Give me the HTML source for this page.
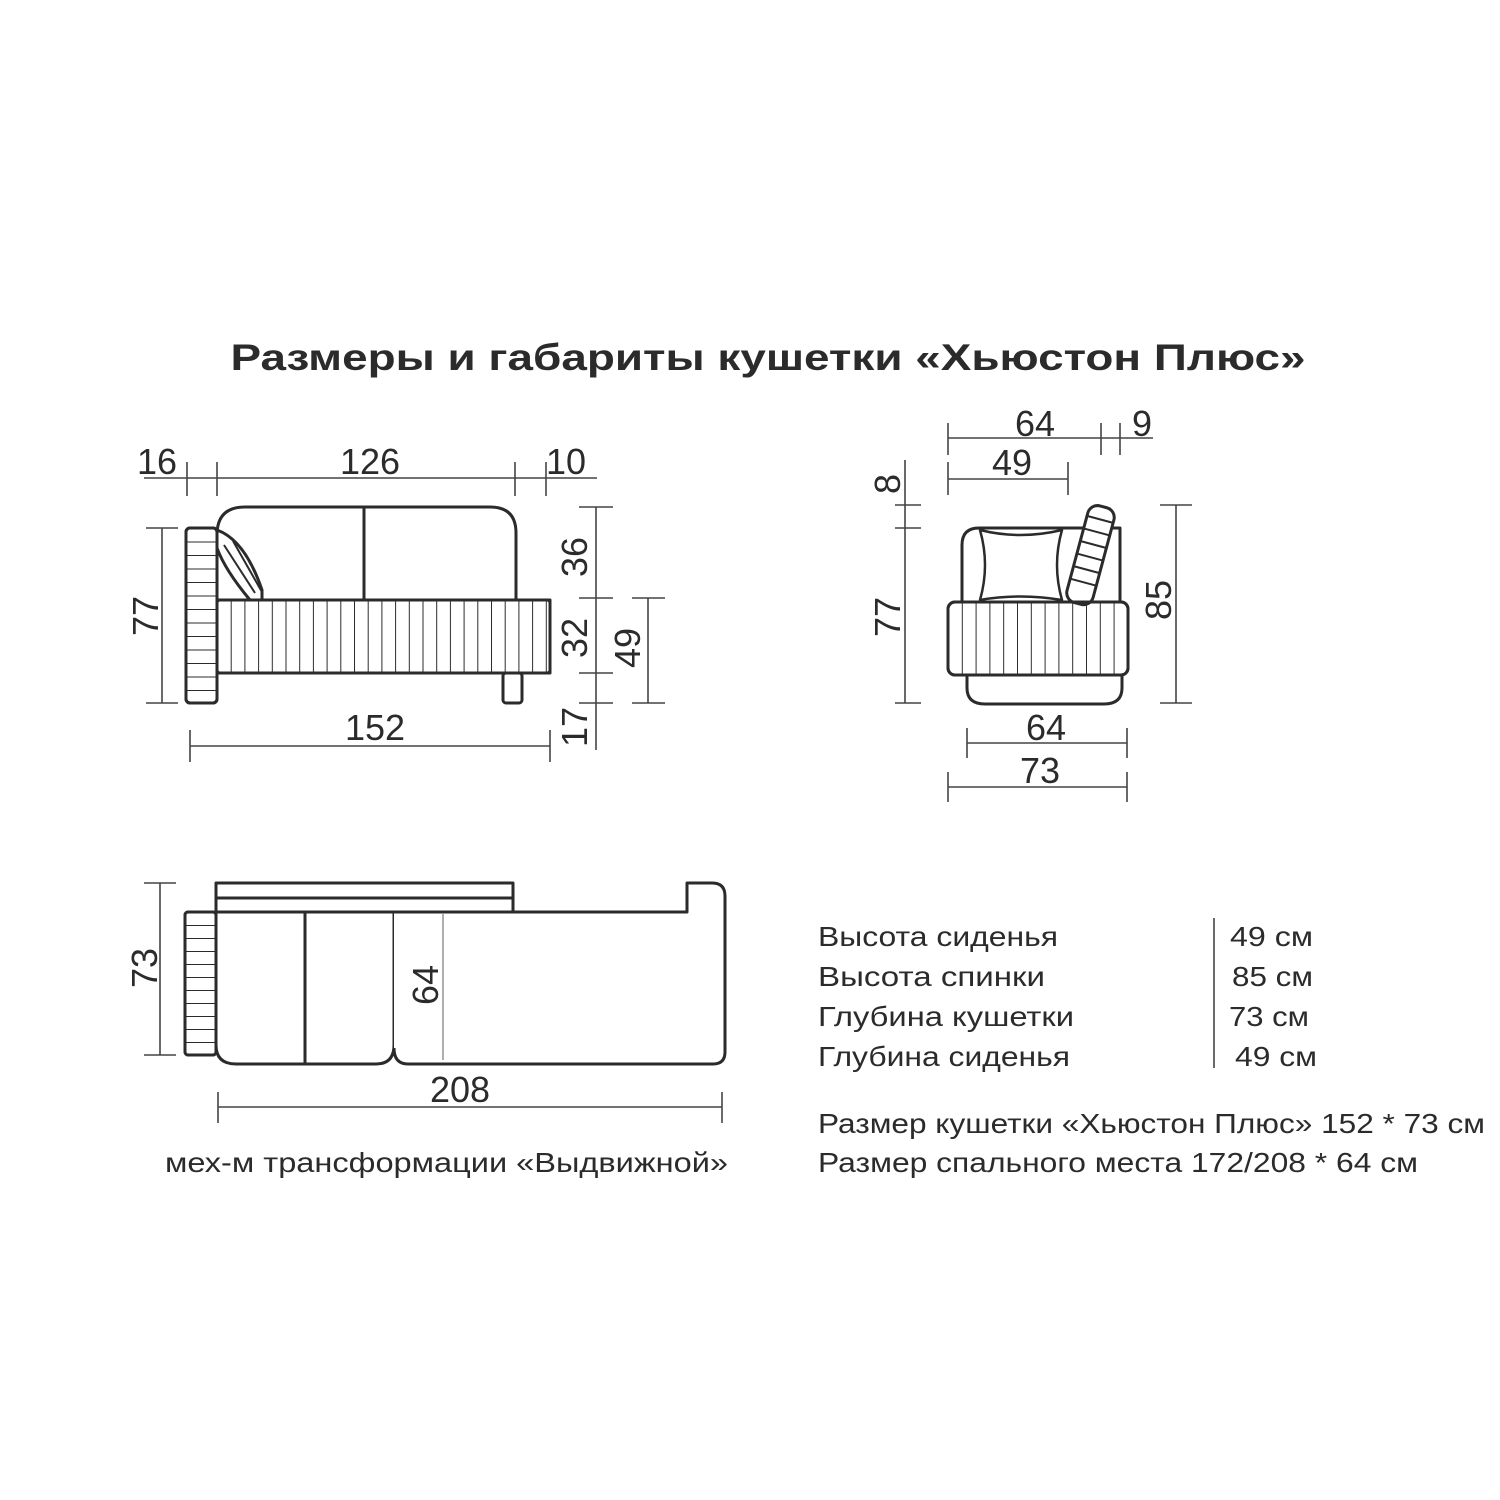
<!DOCTYPE html>
<html><head><meta charset="utf-8"><style>
html,body{margin:0;padding:0;background:#fff;}
svg{display:block;}
text{font-family:"Liberation Sans","DejaVu Sans",sans-serif;fill:#2b2b2b;}
</style></head><body>
<svg width="1500" height="1500" viewBox="0 0 1500 1500" xmlns="http://www.w3.org/2000/svg">
<defs>
<pattern id="vs" patternUnits="userSpaceOnUse" x="217" y="0" width="13.7" height="10"><line x1="0" y1="0" x2="0" y2="10" stroke="#2b2b2b" stroke-width="2"/></pattern>
<pattern id="vs2" patternUnits="userSpaceOnUse" x="948" y="0" width="13.8" height="10"><line x1="0" y1="0" x2="0" y2="10" stroke="#2b2b2b" stroke-width="2"/></pattern>
<pattern id="hs" patternUnits="userSpaceOnUse" x="0" y="528" width="10" height="13.5"><line x1="0" y1="0" x2="10" y2="0" stroke="#2b2b2b" stroke-width="2"/></pattern>
<pattern id="hs2" patternUnits="userSpaceOnUse" x="0" y="912" width="10" height="13"><line x1="0" y1="0" x2="10" y2="0" stroke="#2b2b2b" stroke-width="2"/></pattern>
</defs>

<text x="768" y="370" font-size="37" font-weight="bold" text-anchor="middle" textLength="1075" lengthAdjust="spacingAndGlyphs">Размеры и габариты кушетки «Хьюстон Плюс»</text>

<g stroke="#444" stroke-width="1.6" fill="none">
<line x1="144" y1="478" x2="597" y2="478"/>
<line x1="187" y1="462" x2="187" y2="496"/><line x1="217" y1="462" x2="217" y2="496"/>
<line x1="515" y1="462" x2="515" y2="496"/><line x1="546" y1="462" x2="546" y2="496"/>
<line x1="162" y1="528" x2="162" y2="703"/><line x1="146" y1="528" x2="178" y2="528"/><line x1="146" y1="703" x2="178" y2="703"/>
<line x1="190" y1="746" x2="550" y2="746"/><line x1="190" y1="730" x2="190" y2="762"/><line x1="550" y1="730" x2="550" y2="762"/>
<line x1="596" y1="507" x2="596" y2="750"/>
<line x1="579" y1="507" x2="613" y2="507"/><line x1="579" y1="598" x2="613" y2="598"/><line x1="579" y1="673" x2="613" y2="673"/><line x1="579" y1="703" x2="613" y2="703"/>
<line x1="648" y1="598" x2="648" y2="703"/><line x1="632" y1="598" x2="665" y2="598"/><line x1="632" y1="703" x2="665" y2="703"/>

<line x1="948" y1="438" x2="1153" y2="438"/>
<line x1="948" y1="423" x2="948" y2="455"/><line x1="1101" y1="423" x2="1101" y2="455"/><line x1="1120" y1="423" x2="1120" y2="455"/>
<line x1="948" y1="479" x2="1068" y2="479"/><line x1="948" y1="462" x2="948" y2="495"/><line x1="1068" y1="462" x2="1068" y2="495"/>
<line x1="905" y1="460" x2="905" y2="703"/>
<line x1="895" y1="505" x2="921" y2="505"/><line x1="895" y1="528" x2="921" y2="528"/><line x1="895" y1="703" x2="921" y2="703"/>
<line x1="1176" y1="505" x2="1176" y2="703"/><line x1="1160" y1="505" x2="1192" y2="505"/><line x1="1160" y1="703" x2="1192" y2="703"/>
<line x1="967" y1="743" x2="1127" y2="743"/><line x1="967" y1="728" x2="967" y2="758"/><line x1="1127" y1="728" x2="1127" y2="758"/>
<line x1="948" y1="787" x2="1127" y2="787"/><line x1="948" y1="772" x2="948" y2="802"/><line x1="1127" y1="772" x2="1127" y2="802"/>

<line x1="160" y1="883" x2="160" y2="1055"/><line x1="144" y1="883" x2="176" y2="883"/><line x1="144" y1="1055" x2="176" y2="1055"/>
<line x1="218" y1="1107" x2="722" y2="1107"/><line x1="218" y1="1092" x2="218" y2="1123"/><line x1="722" y1="1092" x2="722" y2="1123"/>
<line x1="1214" y1="918" x2="1214" y2="1068"/>
</g>
<g stroke="#999" stroke-width="1.6"><line x1="443" y1="914" x2="443" y2="1060"/><line x1="428" y1="914" x2="460" y2="914"/><line x1="428" y1="1060" x2="460" y2="1060"/></g>

<g stroke="#2b2b2b" stroke-width="3" fill="#fff" stroke-linejoin="round">
<path d="M217 600 V535 Q217 507 245 507 H490 Q516 507 516 533 V600"/>
<line x1="364" y1="507" x2="364" y2="600"/>
<path d="M217 530 Q245 540 262 590 L262 600 L250 600 Q225 570 217 548 Z" fill="#fff"/>
<path d="M224 545 L255 593 M233 541 L262 592" stroke-width="2"/>
<rect x="217" y="600" width="333" height="73" fill="url(#vs)"/>
<rect x="217" y="600" width="333" height="73" rx="3" fill="none"/>
<rect x="186" y="528" width="31" height="175" rx="4" fill="url(#hs)"/>
<rect x="186" y="528" width="31" height="175" rx="4" fill="none"/>
<rect x="503" y="673" width="19" height="30" rx="3"/>
</g>

<g stroke="#2b2b2b" stroke-width="3" fill="#fff" stroke-linejoin="round">
<path d="M962 602 V545 Q962 528 979 528 H1120 V602"/>
<path d="M980 530 Q1020 540 1062 530 Q1052 565 1062 600 Q1020 593 980 600 Q990 565 980 530 Z" stroke-width="2.5"/>
<g transform="rotate(15 1090 555)">
<rect x="1077" y="505" width="27" height="100" rx="10" fill="#fff"/>
<path d="M1077 518 H1104 M1077 531 H1104 M1077 544 H1104 M1077 557 H1104 M1077 570 H1104 M1077 583 H1104" stroke-width="2"/>
</g>
<path d="M967 675 V688 Q967 704 985 704 H1104 Q1122 704 1122 688 V675"/>
<rect x="948" y="602" width="180" height="73" rx="7" fill="url(#vs2)"/>
<rect x="948" y="602" width="180" height="73" rx="7" fill="none"/>
</g>

<g stroke="#2b2b2b" stroke-width="3" fill="#fff" stroke-linejoin="round">
<rect x="216" y="883" width="297" height="29"/>
<line x1="216" y1="898" x2="513" y2="898"/>
<path d="M216 912 V1045 Q216 1064 236 1064 H376 Q394 1064 394 1045 V912 Z"/>
<line x1="305" y1="912" x2="305" y2="1064"/>
<path d="M394 912 H687 V883 H712 Q725 883 725 896 V1052 Q725 1064 713 1064 H408 Q394 1064 394 1048"/>
<rect x="185" y="912" width="31" height="143" rx="3" fill="url(#hs2)"/>
<rect x="185" y="912" width="31" height="143" rx="3" fill="none"/>
</g>
<g stroke="#999" stroke-width="1.6"><line x1="443" y1="914" x2="443" y2="1060"/></g>

<g font-size="36">
<text x="157" y="474" text-anchor="middle">16</text>
<text x="370" y="474" text-anchor="middle">126</text>
<text x="566" y="474" text-anchor="middle">10</text>
<text x="375" y="740" text-anchor="middle">152</text>
<text transform="translate(158 616) rotate(-90)" text-anchor="middle">77</text>
<text transform="translate(587 557) rotate(-90)" text-anchor="middle">36</text>
<text transform="translate(587 638) rotate(-90)" text-anchor="middle">32</text>
<text transform="translate(587 727) rotate(-90)" text-anchor="middle">17</text>
<text transform="translate(640 648) rotate(-90)" text-anchor="middle">49</text>
<text x="1035" y="436" text-anchor="middle">64</text>
<text x="1142" y="436" text-anchor="middle">9</text>
<text x="1012" y="475" text-anchor="middle">49</text>
<text transform="translate(900 484) rotate(-90)" text-anchor="middle">8</text>
<text transform="translate(900 617) rotate(-90)" text-anchor="middle">77</text>
<text transform="translate(1171 600) rotate(-90)" text-anchor="middle">85</text>
<text x="1046" y="740" text-anchor="middle">64</text>
<text x="1040" y="783" text-anchor="middle">73</text>
<text transform="translate(157 968) rotate(-90)" text-anchor="middle">73</text>
<text transform="translate(438 985) rotate(-90)" text-anchor="middle">64</text>
<text x="460" y="1102" text-anchor="middle">208</text>
</g>

<g font-size="28">
<text x="818" y="946" textLength="240" lengthAdjust="spacingAndGlyphs">Высота сиденья</text>
<text x="818" y="986" textLength="227" lengthAdjust="spacingAndGlyphs">Высота спинки</text>
<text x="818" y="1026" textLength="256" lengthAdjust="spacingAndGlyphs">Глубина кушетки</text>
<text x="818" y="1066" textLength="252" lengthAdjust="spacingAndGlyphs">Глубина сиденья</text>
<text x="1230" y="946" textLength="83" lengthAdjust="spacingAndGlyphs">49 см</text>
<text x="1232" y="986" textLength="81" lengthAdjust="spacingAndGlyphs">85 см</text>
<text x="1229" y="1026" textLength="80" lengthAdjust="spacingAndGlyphs">73 см</text>
<text x="1235" y="1066" textLength="82" lengthAdjust="spacingAndGlyphs">49 см</text>
<text x="818" y="1133" textLength="667" lengthAdjust="spacingAndGlyphs">Размер кушетки «Хьюстон Плюс» 152 * 73 см</text>
<text x="818" y="1172" textLength="600" lengthAdjust="spacingAndGlyphs">Размер спального места 172/208 * 64 см</text>
<text x="165" y="1172" textLength="563" lengthAdjust="spacingAndGlyphs">мех-м трансформации «Выдвижной»</text>
</g>
</svg>
</body></html>
